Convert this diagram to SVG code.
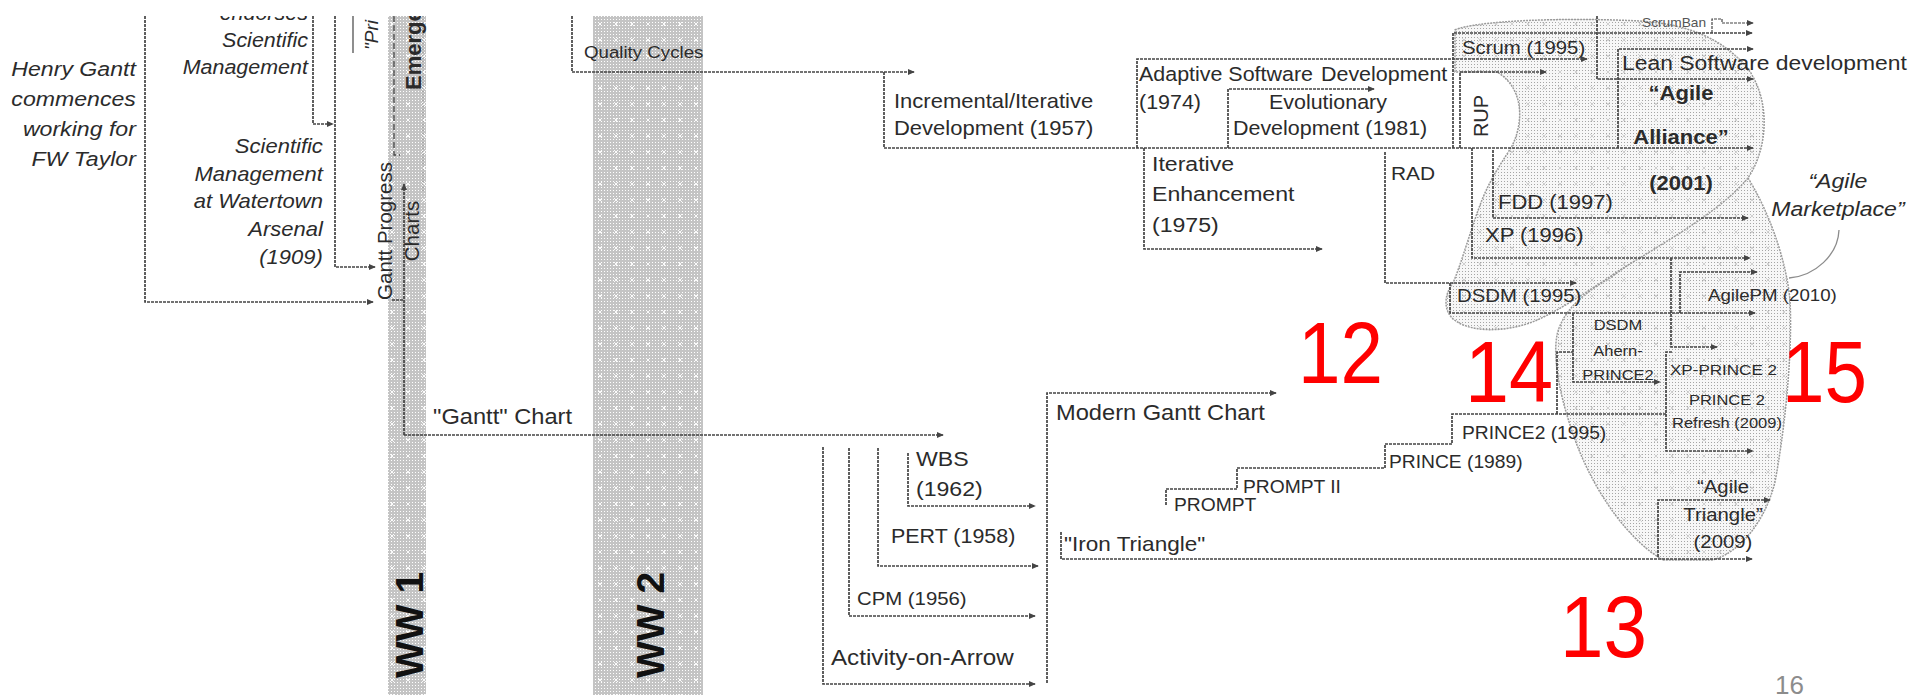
<svg xmlns="http://www.w3.org/2000/svg" width="1911" height="700" viewBox="0 0 1911 700">
<defs>
<style>
.t{font-family:"Liberation Sans",Arial,sans-serif;fill:#2b2b2b;}
.i{font-style:italic;}
.b{font-weight:bold;}
.sx,.sxe,.sxm{transform-box:fill-box;transform:scaleX(1.1);}
.sx{transform-origin:0% 50%;}
.sxe{transform-origin:100% 50%;}
.sxm{transform-origin:50% 50%;}
.c{fill:none;stroke:#444;stroke-width:1.7;stroke-dasharray:3 1;marker-end:url(#ah);}
.n{marker-end:none;}
.blob{stroke:#9a9a9a;stroke-width:1.5;stroke-dasharray:2 1;}
.red{font-family:"Liberation Sans",Arial,sans-serif;fill:#ff0000;}
</style>
<marker id="ah" viewBox="0 0 8 8" refX="7" refY="4" markerWidth="7" markerHeight="7" markerUnits="userSpaceOnUse" orient="auto"><path d="M0,0.5 L8,4 L0,7.5 z" fill="#444"/></marker>
<pattern id="band" width="3" height="3" patternUnits="userSpaceOnUse"><rect width="3" height="3" fill="#c4c4c4"/><rect x="1" y="1" width="1" height="1" fill="#fff"/></pattern>
<pattern id="bandx" width="16" height="16" patternUnits="userSpaceOnUse"><path d="M6,6 L10,10 M10,6 L6,10" stroke="#fff" stroke-width="0.9"/></pattern>
<pattern id="stip" width="3" height="3" patternUnits="userSpaceOnUse"><rect width="3" height="3" fill="#f7f7f7"/><rect x="1" y="1" width="1" height="1" fill="#a5a5a5"/></pattern>
<pattern id="stipx" width="16" height="16" patternUnits="userSpaceOnUse"><path d="M6,6 L10,10 M10,6 L6,10" stroke="#c8c8c8" stroke-width="0.8"/></pattern>
<clipPath id="pg"><rect x="0" y="16" width="1911" height="684"/></clipPath>
</defs>
<rect width="1911" height="700" fill="#fff"/>
<g clip-path="url(#pg)">
<!-- war-time bands -->
<g id="bands">
<rect x="388" y="16" width="38" height="679" fill="url(#band)"/>
<rect x="388" y="16" width="38" height="679" fill="url(#bandx)"/>
<rect x="593" y="16" width="110" height="679" fill="url(#band)"/>
<rect x="593" y="16" width="110" height="679" fill="url(#bandx)"/>
</g>
<!-- agile regions -->
<g id="agile-regions">
<path class="blob" fill="url(#stip)" d="M1748,178 C1768,210 1786,258 1790,300 C1793,360 1783,440 1775,482 C1765,522 1740,552 1713,560 L1663,560 C1628,540 1595,492 1577,445 C1562,405 1552,362 1557,335 C1562,313 1580,295 1610,278 Z"/>
<path fill="url(#stipx)" d="M1748,178 C1768,210 1786,258 1790,300 C1793,360 1783,440 1775,482 C1765,522 1740,552 1713,560 L1663,560 C1628,540 1595,492 1577,445 C1562,405 1552,362 1557,335 C1562,313 1580,295 1610,278 Z"/>
<path class="blob" fill="url(#stip)" d="M1455,30 C1475,21 1560,17 1640,21 C1690,24 1722,40 1745,65 C1770,95 1770,145 1748,178 C1720,212 1660,245 1620,270 C1590,290 1560,310 1535,321 C1505,333 1468,333 1452,318 C1442,307 1446,292 1453,283 C1462,262 1472,225 1482,200 C1492,175 1505,158 1512,146 C1524,122 1524,88 1497,72 L1455,72 Z"/>
<path fill="url(#stipx)" d="M1455,30 C1475,21 1560,17 1640,21 C1690,24 1722,40 1745,65 C1770,95 1770,145 1748,178 C1720,212 1660,245 1620,270 C1590,290 1560,310 1535,321 C1505,333 1468,333 1452,318 C1442,307 1446,292 1453,283 C1462,262 1472,225 1482,200 C1492,175 1505,158 1512,146 C1524,122 1524,88 1497,72 L1455,72 Z"/>
</g>
<g id="connectors">
<path class="c" d="M145,16 V302 H373"/>
<path class="c" d="M313,16 V124 H333"/>
<path class="c" d="M335,16 V267 H375"/>
<path class="c n" d="M353,16 V53" style="stroke-dasharray:none;stroke-width:1.2"/>
<path class="c n" d="M394,16 V155 H400" style="stroke-dasharray:6 3;stroke-width:1.3"/>
<path class="c n" d="M423,16 V192" style="stroke:#8a8a8a;stroke-width:1;stroke-dasharray:1 2"/>
<path class="c n" d="M392,300 H404"/>
<path class="c" d="M404,435 V184"/>
<path class="c" d="M404,435 H943"/>
<path class="c" d="M572,16 V72 H914"/>
<path class="c" d="M884,72 V148 H1753"/>
<path class="c" d="M1137,148 V59 H1587"/>
<path class="c" d="M1228,148 V89 H1374"/>
<path class="c" d="M1144,148 V249 H1322"/>
<path class="c" d="M1385,152 V283 H1576"/>
<path class="c" d="M1453,148 V33 H1752"/>
<path class="c" d="M1460,148 V72 H1546"/>
<path class="c" d="M1712,33 V19 H1722 V23 H1753" style="stroke-width:1.2"/>
<path class="c" d="M1597,16 V79 H1753"/>
<path class="c" d="M1618,148 V49 H1753"/>
<path class="c" d="M1472,148 V258 H1750"/>
<path class="c" d="M1493,150 V218 H1748"/>
<path class="c" d="M1450,283 V313 H1755"/>
<path class="c" d="M1680,313 V272 H1757"/>
<path class="c" d="M1671,258 V347 H1717"/>
<path class="c" d="M1573,313 V382 H1660"/>
<path class="c n" d="M1166,505 V489 H1237 V468 H1385 V444 H1452 V414 H1666"/>
<path class="c n" d="M1557,414 V352 H1573"/>
<path class="c" d="M1672,352 H1666 V451 H1753"/>
<path class="c" d="M1658,557 V500 H1770"/>
<path class="c" d="M1061,532 V559 H1752"/>
<path class="c" d="M1047,683 V393 H1276"/>
<path class="c" d="M823,447 V684 H1035"/>
<path class="c" d="M849,448 V616 H1035"/>
<path class="c" d="M878,448 V566 H1038"/>
<path class="c" d="M908,453 V506 H1035"/>
<path d="M1839,230 C1838,255 1815,276 1789,278" fill="none" stroke="#8c8c8c" stroke-width="1.3"/>
</g>
<!-- left column, italic notes -->
<g id="henry-gantt"><text class="t i sxe" font-size="21" text-anchor="end"><tspan x="136" y="76">Henry Gantt</tspan><tspan x="136" y="106">commences</tspan><tspan x="136" y="136">working for</tspan><tspan x="136" y="166">FW Taylor</tspan></text></g>
<g id="endorses"><text class="t i sxe" font-size="19.5" text-anchor="end"><tspan x="308" y="20">endorses</tspan><tspan x="308" y="47">Scientific</tspan><tspan x="308" y="74">Management</tspan></text></g>
<g id="watertown"><text class="t i sxe" font-size="20" text-anchor="end"><tspan x="323" y="153">Scientific</tspan><tspan x="323" y="181">Management</tspan><tspan x="323" y="208">at Watertown</tspan><tspan x="323" y="236">Arsenal</tspan><tspan x="323" y="264">(1909)</tspan></text></g>
<g id="principles"><text class="t i" font-size="19" transform="translate(378,50) rotate(-90)">"Pri</text></g>
<g id="emergence"><text class="t b" font-size="22" transform="translate(421,90) rotate(-90)">Emerge</text></g>
<g id="gantt-progress"><text class="t" font-size="20.5" text-anchor="middle" transform="translate(392,231) rotate(-90)"><tspan x="0" y="0">Gantt Progress</tspan><tspan x="0" y="27">Charts</tspan></text></g>
<g id="ww1"><text class="t b" font-size="39" text-anchor="middle" style="fill:#111" transform="translate(423,625) rotate(-90)">WW 1</text></g>
<g id="ww2"><text class="t b" font-size="39" text-anchor="middle" style="fill:#111" transform="translate(664,625) rotate(-90)">WW 2</text></g>
<g id="gantt-chart"><text class="t sx" font-size="21.5" x="433" y="424">"Gantt" Chart</text></g>
<g id="quality-cycles"><text class="t sx" font-size="17" x="584" y="58">Quality Cycles</text></g>
<g id="incremental"><text class="t sx" font-size="20"><tspan x="894" y="108.5">Incremental/Iterative</tspan><tspan x="894" y="135">Development (1957)</tspan></text></g>
<g id="adaptive">
<text class="t sx" font-size="19.5" x="1139" y="81">Adaptive Software</text>
<text class="t sx" font-size="19.5" x="1321" y="81">Development</text>
<text class="t sx" font-size="19.5" x="1139" y="109">(1974)</text>
</g>
<g id="evolutionary">
<text class="t sxm" font-size="19.5" x="1328" y="109" text-anchor="middle">Evolutionary</text>
<text class="t sx" font-size="19.5" x="1233" y="135">Development (1981)</text>
</g>
<g id="iterative-enhancement"><text class="t sx" font-size="21"><tspan x="1152" y="171">Iterative</tspan><tspan x="1152" y="201.5">Enhancement</tspan><tspan x="1152" y="232">(1975)</tspan></text></g>
<g id="rad"><text class="t sx" font-size="19" x="1391" y="180">RAD</text></g>
<g id="scrum"><text class="t sx" font-size="18.5" x="1462" y="54">Scrum (1995)</text></g>
<g id="scrumban"><text class="t sx" font-size="12.5" x="1642" y="27" style="fill:#555">ScrumBan</text></g>
<g id="rup"><text class="t" font-size="20" text-anchor="middle" transform="translate(1488,116) rotate(-90)">RUP</text></g>
<g id="lean"><text class="t sx" font-size="20.8" x="1622" y="70">Lean Software development</text></g>
<g id="agile-alliance"><text class="t b sxm" font-size="20" text-anchor="middle"><tspan x="1681" y="100">“Agile</tspan><tspan x="1681" y="144">Alliance”</tspan><tspan x="1681" y="190">(2001)</tspan></text></g>
<g id="fdd"><text class="t sx" font-size="20" x="1498" y="209">FDD (1997)</text></g>
<g id="xp"><text class="t sx" font-size="20" x="1485" y="242">XP (1996)</text></g>
<g id="agile-marketplace"><text class="t i sxm" font-size="21" text-anchor="middle"><tspan x="1838" y="188">“Agile</tspan><tspan x="1838" y="216">Marketplace”</tspan></text></g>
<g id="dsdm"><text class="t sx" font-size="18.5" x="1457" y="302">DSDM (1995)</text></g>
<g id="agilepm"><text class="t sx" font-size="17" x="1708" y="301">AgilePM (2010)</text></g>
<g id="dsdm-ahern"><text class="t sxm" font-size="15" text-anchor="middle"><tspan x="1618" y="330">DSDM</tspan><tspan x="1618" y="356">Ahern-</tspan><tspan x="1618" y="380">PRINCE2</tspan></text></g>
<g id="xp-prince2"><text class="t sx" font-size="15.5" x="1670" y="375">XP-PRINCE 2</text></g>
<g id="prince2-refresh"><text class="t sxm" font-size="15" text-anchor="middle"><tspan x="1727" y="405">PRINCE 2</tspan><tspan x="1727" y="428">Refresh (2009)</tspan></text></g>
<g id="agile-triangle"><text class="t sxm" font-size="18.5" text-anchor="middle"><tspan x="1723" y="493">“Agile</tspan><tspan x="1723" y="521">Triangle”</tspan><tspan x="1723" y="548">(2009)</tspan></text></g>
<g id="prince2"><text class="t sx" font-size="17.5" x="1462" y="439">PRINCE2 (1995)</text></g>
<g id="prince"><text class="t sx" font-size="17.5" x="1389" y="468">PRINCE (1989)</text></g>
<g id="prompt2"><text class="t sx" font-size="17.5" x="1243" y="493">PROMPT II</text></g>
<g id="prompt"><text class="t sx" font-size="17.5" x="1174" y="511">PROMPT</text></g>
<g id="modern-gantt"><text class="t sx" font-size="21.5" x="1056" y="420">Modern Gantt Chart</text></g>
<g id="iron-triangle"><text class="t sx" font-size="20.5" x="1064" y="551">"Iron Triangle"</text></g>
<g id="wbs"><text class="t sx" font-size="21"><tspan x="916" y="466">WBS</tspan><tspan x="916" y="496">(1962)</tspan></text></g>
<g id="pert"><text class="t sx" font-size="19.5" x="891" y="543">PERT (1958)</text></g>
<g id="cpm"><text class="t sx" font-size="18.5" x="857" y="605">CPM (1956)</text></g>
<g id="aoa"><text class="t sx" font-size="22" x="831" y="665">Activity-on-Arrow</text></g>
<!-- section numbers -->
<g id="num-12"><text class="red" font-size="88" x="1298" y="383" textLength="85" lengthAdjust="spacingAndGlyphs">12</text></g>
<g id="num-13"><text class="red" font-size="88" x="1560" y="657" textLength="87" lengthAdjust="spacingAndGlyphs">13</text></g>
<g id="num-14"><text class="red" font-size="88" x="1465" y="402" textLength="88" lengthAdjust="spacingAndGlyphs">14</text></g>
<g id="num-15"><text class="red" font-size="88" x="1782" y="402" textLength="85" lengthAdjust="spacingAndGlyphs">15</text></g>
<g id="page"><text font-family="Liberation Sans, Arial, sans-serif" font-size="26" x="1775" y="694" fill="#8c8c8c">16</text></g>
</g>
</svg>
